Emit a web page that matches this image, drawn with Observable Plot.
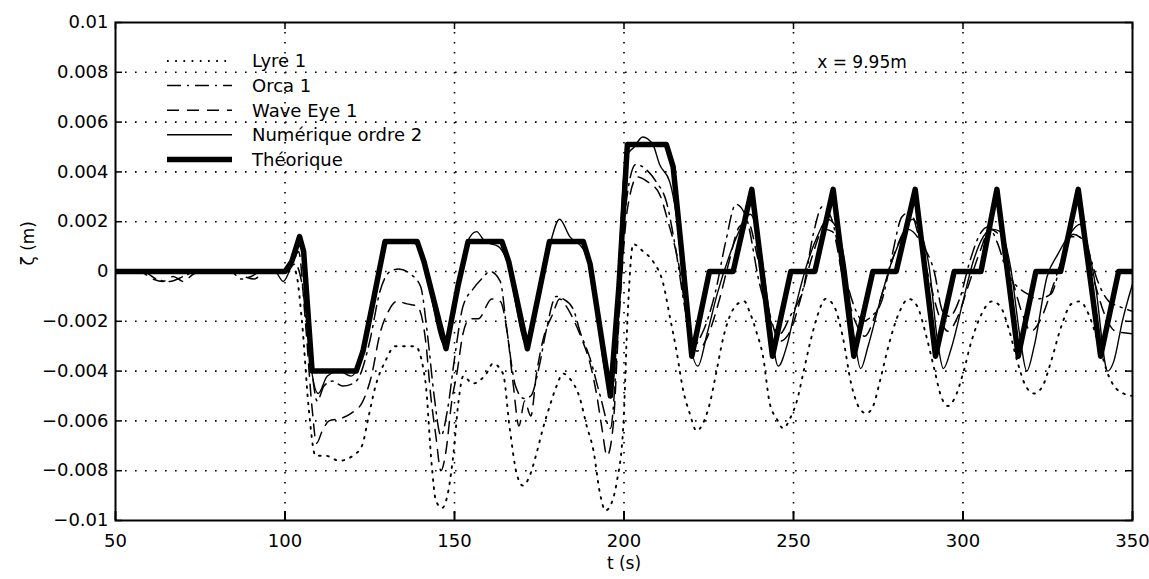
<!DOCTYPE html>
<html><head><meta charset="utf-8">
<script src="https://cdn.jsdelivr.net/npm/d3@7"></script>
<script src="https://cdn.jsdelivr.net/npm/@observablehq/plot@0.6"></script>
<style>body{margin:0;background:#fff;}</style>
</head><body><div id="chart"></div>
<script>
const xTicks = [50,100,150,200,250,300,350];
const yTicks = [-0.01,-0.008,-0.006,-0.004,-0.002,0,0.002,0.004,0.006,0.008,0.01];
const yTickLabels = ["\u22120.01","\u22120.008","\u22120.006","\u22120.004","\u22120.002","0","0.002","0.004","0.006","0.008","0.01"];
const seriesNames = ["Lyre 1","Orca 1","Wave Eye 1","Numérique ordre 2","Théorique"];
const xLabel = "t (s)";
const yLabel = "\u03B6 (m)";
const annotation = {t: 257, y: 0.0084, text: "x = 9.95m"};

const theorique = [[50,0],[100,0],[102,0.0004],[104.3,0.0014],[105.5,0.0008],[108,-0.004],[121,-0.004],[123,-0.0032],[126,-0.0012],[129.5,0.0012],[139,0.0012],[141,0.0004],[147.5,-0.0031],[151,-0.0006],[154,0.0012],[164,0.0012],[166,0.0004],[171.5,-0.0031],[175,-0.0008],[178,0.0012],[188,0.0012],[190,0.0003],[196,-0.005],[198.5,-0.0006],[201,0.0051],[212.5,0.0051],[214.5,0.0042],[217,0.0008],[220,-0.0034],[225.2,0],[232.2,0],[237.7,0.0033],[243.8,-0.0034],[249.2,0],[256.3,0],[261.7,0.0033],[267.8,-0.0034],[273.4,0],[280.3,0],[285.9,0.0033],[291.9,-0.0034],[297.4,0],[305.3,0],[310,0.0033],[316.3,-0.0034],[321.5,0],[328.8,0],[334,0.0033],[340.6,-0.0034],[345.9,0],[350,0]];

const numerique = [[50,0],[60,0.00005],[80,0],[97,0],[99.5,-0.0004],[101.5,0.0001],[104,0.0013],[105.5,0.0006],[107.5,-0.0036],[109.8,-0.0049],[112.5,-0.0042],[116,-0.004],[119.5,-0.0042],[121.5,-0.0038],[123,-0.003],[126,-0.0012],[129.5,0.0011],[133,0.0012],[139,0.0011],[141,0.0003],[147.3,-0.003],[151,-0.0006],[153.5,0.0011],[156.5,0.0016],[159,0.0012],[163,0.001],[165,0.0006],[171.5,-0.003],[175,-0.0008],[178,0.001],[181,0.0021],[184,0.0014],[188,0.0009],[190,0.0002],[195.5,-0.0044],[198,-0.001],[200.5,0.0046],[203,0.005],[205.5,0.0054],[208.5,0.0051],[210.5,0.0043],[213.5,0.0036],[215.5,0.0022],[219,-0.0025],[221.8,-0.0038],[224.5,-0.0025],[227.5,-0.0009],[231,0.0006],[235,0.0019],[237.2,0.0023],[239.5,0.0015],[242.5,-0.0013],[245.5,-0.0038],[248,-0.003],[251,-0.0012],[254,0.0003],[257,0.0014],[260,0.0021],[262.5,0.0018],[265,0.0005],[268,-0.0027],[269.8,-0.0039],[272,-0.003],[275.5,-0.0012],[279,0.0004],[282,0.0014],[285,0.0021],[287.5,0.0016],[290,0.0002],[292.5,-0.0028],[294.2,-0.0039],[296.5,-0.0031],[300,-0.0012],[303,0.0004],[306,0.0014],[308.5,0.0017],[311,0.0016],[314,0.0002],[317,-0.0028],[318.8,-0.004],[321,-0.003],[324.8,-0.0002],[328,0.0007],[331,0.0014],[334.5,0.0019],[336.5,0.0012],[339,-0.0005],[342.7,-0.004],[344.5,-0.0036],[347,-0.002],[350,-0.0005]];

const orca = [[50,0],[58,0],[62,-0.0003],[66,-0.0004],[70,-0.0002],[74,0],[84,0],[87,-0.0003],[90,-0.0002],[93,0],[100,0],[103,0.0003],[105,-0.0005],[107.5,-0.0035],[109.5,-0.0052],[111.5,-0.0046],[114,-0.0044],[117,-0.0046],[120,-0.0045],[122,-0.0042],[125,-0.0028],[128,-0.0008],[131,0],[133.5,0.0001],[137,-0.0001],[140,-0.0006],[142,-0.0025],[144,-0.005],[146,-0.0066],[148,-0.0055],[150,-0.0035],[152.5,-0.0014],[155.5,-0.0007],[158,-0.0003],[160.5,0],[163.5,-0.0004],[165.5,-0.0024],[168,-0.0046],[170.5,-0.0051],[172.5,-0.005],[175,-0.0038],[177,-0.0024],[180,-0.001],[182,-0.0011],[185,-0.0015],[187,-0.0024],[190,-0.0035],[193,-0.005],[196,-0.0063],[198,-0.003],[200,0.002],[203.5,0.0043],[206.5,0.0041],[209.5,0.0036],[212.5,0.0028],[215,0.0011],[218,-0.0015],[220.5,-0.003],[223,-0.0025],[227,-0.0008],[230,0.0012],[233,0.0027],[236,0.0022],[240,-0.0005],[244,-0.0022],[246,-0.0025],[249,-0.0018],[253,-0.0006],[256,0.0016],[258.5,0.0026],[261,0.0022],[264.5,0.0002],[268.5,-0.0016],[270.5,-0.002],[273,-0.0018],[276,-0.0012],[279,0.0006],[282,0.0022],[284.5,0.0024],[287,0.0014],[291.5,0],[294,-0.0016],[296,-0.0018],[299,-0.0011],[302,0.0004],[305,0.0015],[307.5,0.0018],[310,0.0012],[313.5,-0.0002],[316,-0.0006],[319,-0.0009],[322,-0.0011],[326,-0.0009],[329,0.0004],[331.5,0.0014],[334,0.0014],[337,0.0008],[339.5,-0.0003],[343,-0.0012],[346,-0.0014],[350,-0.0016]];

const waveEye = [[50,0],[57,0],[61,-0.0003],[64,-0.0004],[67,-0.0002],[70,-0.0004],[73,-0.0001],[76,0],[85,0],[88,-0.0002],[91,-0.0003],[94,0],[100,0],[102,0.0002],[104,0.0008],[106,-0.002],[108,-0.0055],[109.3,-0.0069],[111,-0.0064],[113,-0.006],[116.5,-0.0059],[119.5,-0.0057],[123,-0.0052],[125.5,-0.0042],[128,-0.0025],[130.5,-0.0016],[133,-0.0012],[136,-0.0013],[139,-0.0014],[141.5,-0.0028],[143,-0.005],[144.5,-0.0066],[146,-0.008],[147.5,-0.0072],[149.2,-0.0052],[150.7,-0.0041],[152.5,-0.0025],[154.5,-0.0019],[157,-0.0019],[161,-0.0011],[163.5,-0.0012],[165.5,-0.0024],[167.3,-0.0045],[169,-0.0062],[170.7,-0.0052],[172.5,-0.0058],[174.2,-0.0041],[176.2,-0.0027],[179,-0.0017],[181,-0.0011],[183,-0.0014],[185,-0.0019],[187.5,-0.0027],[190,-0.0037],[192,-0.005],[193.5,-0.0063],[195,-0.0074],[196.8,-0.0062],[198.5,-0.002],[201,0.0025],[204,0.0038],[207,0.0036],[210.5,0.0031],[213,0.002],[216,0.0004],[219,-0.0022],[221.5,-0.0032],[224,-0.0028],[228,-0.0012],[231,0.0004],[234,0.0018],[236.5,0.002],[239.5,0.0005],[243,-0.0017],[246,-0.0028],[249,-0.0024],[252.5,-0.0009],[255.5,0.0006],[259,0.0017],[261.5,0.0016],[264.5,-0.0002],[268.5,-0.0021],[271,-0.0026],[274,-0.0018],[277,-0.0005],[280,0.0008],[283.5,0.0017],[286.5,0.0014],[290,-0.0003],[293,-0.0018],[295.5,-0.0024],[298.5,-0.0018],[301.5,-0.0006],[305,0.0008],[308,0.0017],[311,0.0014],[314.5,-0.0003],[317.5,-0.0017],[320,-0.0024],[323,-0.0019],[326,-0.0008],[329.5,0.0006],[332.5,0.0015],[335,0.0013],[338.5,-0.0003],[342,-0.0018],[345,-0.0024],[350,-0.0025]];

const lyre = [[50,0],[100,0],[103,0],[105,-0.002],[107,-0.0055],[109,-0.0074],[112,-0.0074],[116,-0.0076],[120,-0.0074],[122.7,-0.007],[124.7,-0.0058],[126.7,-0.0046],[129.6,-0.0036],[132.5,-0.003],[138.4,-0.003],[141.4,-0.0044],[143.3,-0.0078],[144.5,-0.0092],[146.3,-0.0095],[148.2,-0.0088],[149.7,-0.0073],[151.2,-0.0052],[152.6,-0.0042],[155.4,-0.0045],[159.4,-0.0041],[161.3,-0.0037],[164.3,-0.0041],[166.3,-0.0063],[168.3,-0.0081],[170.2,-0.0086],[172.2,-0.0082],[174.2,-0.0073],[176.1,-0.0063],[178.1,-0.0054],[180.1,-0.0046],[182,-0.0041],[184,-0.0043],[187,-0.0051],[189,-0.0062],[191,-0.0072],[192.9,-0.0089],[194.5,-0.0096],[196,-0.0094],[197.8,-0.0085],[199.8,-0.0062],[201,-0.002],[202.7,0.0011],[205.7,0.0008],[208.6,0.0004],[211.6,-0.0005],[213.5,-0.0018],[215.5,-0.0032],[217.5,-0.0048],[219.4,-0.0057],[221.4,-0.0064],[223.3,-0.0061],[225.3,-0.0053],[227.3,-0.004],[229.2,-0.0027],[231.2,-0.0018],[233.5,-0.0013],[235.5,-0.0012],[237,-0.0016],[239,-0.0024],[241,-0.0034],[243,-0.0053],[245,-0.0059],[247,-0.0063],[249,-0.0059],[251,-0.0052],[253,-0.004],[255,-0.0028],[257,-0.0018],[259.5,-0.0011],[262,-0.0014],[264.5,-0.0026],[267,-0.0045],[269.5,-0.0055],[271.5,-0.0057],[273.5,-0.0054],[275.5,-0.0044],[278,-0.003],[281,-0.0017],[284,-0.0011],[286.5,-0.0014],[289,-0.0025],[291.5,-0.0039],[293.5,-0.005],[295.5,-0.0054],[297.5,-0.0051],[300,-0.0041],[302.5,-0.0028],[305.5,-0.0017],[308.5,-0.0012],[311,-0.0014],[313.5,-0.0023],[316,-0.0036],[318.5,-0.0046],[321,-0.0049],[323.5,-0.0046],[326,-0.0036],[329,-0.0022],[332,-0.0013],[334.5,-0.0012],[337,-0.0017],[340,-0.0029],[343,-0.0042],[346,-0.0048],[350,-0.005]];

// styles (kept separate from data)
const W = 1149, H = 579;
const M = {top: 22, right: 17, bottom: 59, left: 115};
const frameW = W - M.left - M.right, frameH = H - M.top - M.bottom;
const FONT = "'DejaVu Sans', 'Liberation Sans', Arial, sans-serif";
const FS = 18;
const styles = [
  {strokeWidth: 1.9, strokeDasharray: "1.7,6.5", curve: "monotone-x"},
  {strokeWidth: 1.5, strokeDasharray: "14,6,2,6", curve: "monotone-x"},
  {strokeWidth: 1.5, strokeDasharray: "12,8", curve: "monotone-x"},
  {strokeWidth: 1.4, curve: "monotone-x"},
  {strokeWidth: 5.5, curve: "linear"}
];
const seriesData = [lyre, orca, waveEye, numerique, theorique];

const gridStyle = {stroke: "black", strokeWidth: 1.6, strokeDasharray: "1.6,8.4"};

const lineMarks = [4,0,2,1,3].map(i => Plot.line(seriesData[i], {
  x: d => d[0], y: d => d[1], stroke: "black",
  strokeWidth: styles[i].strokeWidth, strokeDasharray: styles[i].strokeDasharray,
  curve: styles[i].curve, strokeLinejoin: "round", clip: true
}));

const svg = Plot.plot({
  width: W, height: H,
  marginTop: M.top, marginRight: M.right, marginBottom: M.bottom, marginLeft: M.left,
  style: {background: "white", color: "black", fontFamily: FONT, fontSize: FS + "px"},
  x: {domain: [50, 350]},
  y: {domain: [-0.01, 0.01]},
  marks: [
    Plot.ruleX(xTicks.slice(1, -1), {x: d => d, ...gridStyle}),
    Plot.ruleY(yTicks.slice(1, -1), {y: d => d, ...gridStyle}),
    ...lineMarks,
    Plot.tickX(xTicks, {x: d => d, stroke: "black", strokeWidth: 2, insetTop: frameH - 9}),
    Plot.tickX(xTicks, {x: d => d, stroke: "black", strokeWidth: 1.5, insetBottom: frameH - 7}),
    Plot.tickY(yTicks, {y: d => d, stroke: "black", strokeWidth: 1.5, insetRight: frameW - 7}),
    Plot.tickY(yTicks, {y: d => d, stroke: "black", strokeWidth: 1.5, insetLeft: frameW - 7}),
    Plot.frame({stroke: "black", strokeWidth: 2}),
    Plot.axisX({ticks: xTicks, tickSize: 0, tickPadding: 14, label: null, fontSize: FS, tickFormat: d => String(d)}),
    Plot.axisY({ticks: yTicks, tickSize: 0, tickPadding: 7, label: null, fontSize: FS,
      tickFormat: d => yTickLabels[yTicks.indexOf(d)]}),
    Plot.text([xLabel], {frameAnchor: "bottom", dy: 48, text: d => d, fontSize: FS - 1}),
    Plot.text([yLabel], {frameAnchor: "left", dx: -87, dy: -6, rotate: -90, text: d => d, fontSize: FS - 1}),
    Plot.text([annotation], {x: "t", y: "y", text: "text", textAnchor: "start", fontSize: FS - 1})
  ]
});

// legend drawn inside the plot area, top-left
const lg = d3.select(svg).append("g").attr("font-family", FONT).attr("font-size", FS).attr("text-anchor", "start");
seriesNames.forEach((name, i) => {
  const y = 61 + i * 24.6;
  lg.append("line").attr("x1", 167).attr("x2", 232).attr("y1", y).attr("y2", y)
    .attr("stroke", "black").attr("stroke-width", styles[i].strokeWidth)
    .attr("stroke-dasharray", styles[i].strokeDasharray || null);
  lg.append("text").attr("x", 252).attr("y", y).attr("dy", "0.35em").attr("fill", "black")
    .attr("text-anchor", "start").text(name);
});

document.getElementById("chart").appendChild(svg);
</script>
</body></html>
